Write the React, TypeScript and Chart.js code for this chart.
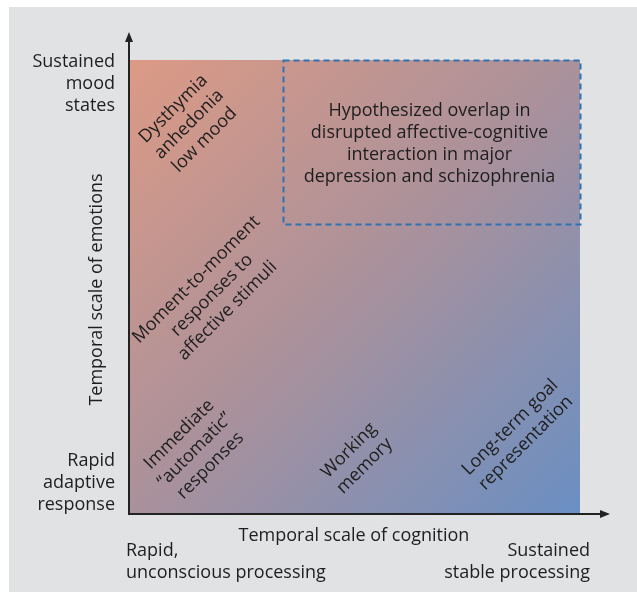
import React, { useEffect, useRef } from "react";
import { Chart, registerables } from "chart.js";

Chart.register(...registerables);

// Region labels (data coordinates: x = cognition time scale 0..1, y = emotion time scale 0..1)
const regionLabels = [
  ["Dysthymia", "anhedonia", "low mood"],
  ["Moment-to-moment", "responses to", "affective stimuli"],
  ["Immediate", "\u201Cautomatic\u201D", "responses"],
  ["Working", "memory"],
  ["Long-term goal", "representation"],
];
const regionX = [0.131, 0.182, 0.144, 0.504, 0.862];
const regionY = [0.858, 0.481, 0.139, 0.121, 0.172];

// Hypothesized overlap box
const overlapX = [0.34, 1.0];
const overlapY = [0.638, 1.0];
const overlapText = [
  "Hypothesized overlap in",
  "disrupted affective-cognitive",
  "interaction in major",
  "depression and schizophrenia",
];

// Axis titles and end labels
const xTitle = "Temporal scale of cognition";
const yTitle = "Temporal scale of emotions";
const yTopLabel = ["Sustained", "mood", "states"];
const yBottomLabel = ["Rapid", "adaptive", "response"];
const xLeftLabel = ["Rapid,", "unconscious processing"];
const xRightLabel = ["Sustained", "stable processing"];

const FONT = "18px 'Open Sans', 'Noto Sans', sans-serif";
const TEXT = "#1e1e1e";

const drawPlugin = {
  id: "diagram",
  beforeDraw(chart: any) {
    const ctx = chart.ctx;
    const { left, top, right, bottom } = chart.chartArea;
    ctx.save();
    ctx.fillStyle = "#ffffff";
    ctx.fillRect(0, 0, chart.width, chart.height);
    ctx.fillStyle = "#e1e2e4";
    ctx.fillRect(9, 7, chart.width - 9, chart.height - 7);
    const g = ctx.createLinearGradient(left, top, right, bottom);
    g.addColorStop(0, "#dc9a85");
    g.addColorStop(0.5, "#aa919b");
    g.addColorStop(1, "#6a8fc3");
    ctx.fillStyle = g;
    ctx.fillRect(left, top, right - left, bottom - top);
    ctx.restore();
  },
  afterDraw(chart: any) {
    const ctx = chart.ctx;
    const xs = chart.scales.x;
    const ys = chart.scales.y;
    const { left, top, right, bottom } = chart.chartArea;
    ctx.save();
    // overlap box
    const bx0 = xs.getPixelForValue(overlapX[0]);
    const bx1 = xs.getPixelForValue(overlapX[1]);
    const by0 = ys.getPixelForValue(overlapY[1]);
    const by1 = ys.getPixelForValue(overlapY[0]);
    ctx.strokeStyle = "#2f72b4";
    ctx.lineWidth = 2;
    ctx.setLineDash([6, 4]);
    ctx.strokeRect(bx0 + 0.5, by0 + 0.5, bx1 - bx0, by1 - by0);
    ctx.setLineDash([]);

    ctx.font = FONT;
    ctx.fillStyle = TEXT;
    ctx.textAlign = "center";
    ctx.textBaseline = "middle";
    const lh = 22;
    const cx = (bx0 + bx1) / 2 - 2;
    const cy = (by0 + by1) / 2 + 2;
    overlapText.forEach((t, i) => {
      ctx.fillText(t, cx, cy + (i - (overlapText.length - 1) / 2) * lh);
    });

    // rotated region labels
    regionLabels.forEach((lines, k) => {
      const px = xs.getPixelForValue(regionX[k]);
      const py = ys.getPixelForValue(regionY[k]);
      ctx.save();
      ctx.translate(px, py);
      ctx.rotate(-Math.PI / 4);
      lines.forEach((t, i) => {
        ctx.fillText(t, 0, (i - (lines.length - 1) / 2) * lh);
      });
      ctx.restore();
    });

    // axes
    ctx.strokeStyle = "#222";
    ctx.fillStyle = "#222";
    ctx.lineWidth = 2;
    ctx.beginPath();
    ctx.moveTo(left - 1, bottom + 1);
    ctx.lineTo(left - 1, top - 20);
    ctx.moveTo(left - 2, bottom + 1);
    ctx.lineTo(right + 22, bottom + 1);
    ctx.stroke();
    // arrow heads
    ctx.beginPath();
    ctx.moveTo(left - 1, top - 28);
    ctx.lineTo(left - 5, top - 18);
    ctx.lineTo(left + 3, top - 18);
    ctx.closePath();
    ctx.fill();
    ctx.beginPath();
    ctx.moveTo(right + 30, bottom + 1);
    ctx.lineTo(right + 20, bottom - 3);
    ctx.lineTo(right + 20, bottom + 5);
    ctx.closePath();
    ctx.fill();

    ctx.fillStyle = TEXT;
    // y end labels
    ctx.textAlign = "right";
    yTopLabel.forEach((t, i) => ctx.fillText(t, left - 15, top + 2 + i * lh));
    yBottomLabel.forEach((t, i) => ctx.fillText(t, left - 15, bottom - 52 + i * lh));
    // y title
    ctx.save();
    ctx.translate(left - 33, (top + bottom) / 2 + 3);
    ctx.rotate(-Math.PI / 2);
    ctx.textAlign = "center";
    ctx.fillText(yTitle, 0, 0);
    ctx.restore();
    // x title
    ctx.textAlign = "center";
    ctx.fillText(xTitle, (left + right) / 2 - 1, bottom + 23);
    // x end labels
    ctx.textAlign = "left";
    xLeftLabel.forEach((t, i) => ctx.fillText(t, left - 4, bottom + 38 + i * lh));
    ctx.textAlign = "right";
    xRightLabel.forEach((t, i) => ctx.fillText(t, right + 10, bottom + 38 + i * lh));
    ctx.restore();
  },
};

export default function App() {
  const ref = useRef<HTMLCanvasElement | null>(null);
  useEffect(() => {
    if (!ref.current) return;
    const chart = new Chart(ref.current, {
      type: "scatter",
      data: {
        datasets: [
          {
            data: regionX.map((x, i) => ({ x, y: regionY[i] })),
            pointRadius: 0,
            showLine: false,
          },
        ],
      },
      options: {
        animation: false,
        responsive: false,
        layout: { padding: { left: 130, top: 60, right: 57, bottom: 79 } },
        scales: {
          x: { type: "linear", min: 0, max: 1, display: false },
          y: { type: "linear", min: 0, max: 1, display: false },
        },
        plugins: { legend: { display: false }, tooltip: { enabled: false } },
        events: [],
      },
      plugins: [drawPlugin],
    });
    return () => chart.destroy();
  }, []);
  return (
    <div style={{ position: "fixed", left: 0, top: 0, width: 637, height: 592 }}>
      <canvas ref={ref} width={637} height={592} style={{ width: 637, height: 592 }} />
    </div>
  );
}
